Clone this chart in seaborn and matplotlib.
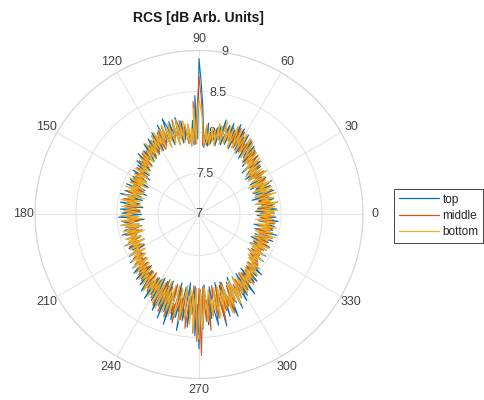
import numpy as np
import pandas as pd
import matplotlib
matplotlib.use("Agg")
import matplotlib.pyplot as plt
import seaborn as sns
from matplotlib.lines import Line2D

# angle of each sample, degrees (1 degree step)
angles_deg = list(range(0, 360))

top = [
    7.74, 7.92, 7.81, 7.69, 7.95, 7.86, 7.72, 7.90, 7.78, 7.97,
    7.70, 7.84, 7.93, 7.75, 7.88, 7.67, 7.91, 7.80, 7.96, 7.73,
    7.85, 7.71, 7.94, 7.82, 7.76, 7.98, 7.70, 7.87, 7.79, 7.93,
    7.72, 7.89, 7.83, 7.97, 7.74, 7.86, 7.92, 7.71, 7.95, 7.80,
    7.76, 7.99, 7.84, 7.91, 7.73, 8.02, 7.86, 7.95, 7.79, 8.04,
    7.83, 8.07, 7.88, 7.96, 8.10, 7.84, 8.05, 7.92, 8.14, 7.87,
    8.09, 7.90, 8.18, 7.95, 8.04, 8.21, 7.88, 8.12, 7.97, 8.19,
    7.91, 8.15, 8.02, 7.89, 8.20, 7.94, 8.11, 7.86, 8.08, 7.93,
    8.03, 7.87, 7.98, 7.84, 8.12, 7.90, 7.82, 8.05, 8.32, 8.60,
    8.90, 7.92, 8.45, 7.86, 8.15, 7.99, 7.84, 8.10, 7.90, 8.08,
    7.93, 8.16, 7.89, 8.10, 8.22, 7.92, 8.14, 7.98, 8.19, 7.90,
    8.13, 8.25, 7.94, 8.08, 7.96, 8.20, 7.91, 8.12, 8.03, 7.89,
    8.15, 7.93, 8.06, 7.88, 8.11, 7.97, 8.04, 7.86, 8.09, 7.92,
    7.85, 8.03, 7.90, 7.98, 7.82, 8.05, 7.87, 7.95, 7.80, 8.00,
    7.84, 7.96, 7.77, 7.92, 7.86, 7.73, 7.97, 7.81, 7.90, 7.75,
    7.93, 7.79, 7.70, 7.94, 7.83, 7.88, 7.72, 7.96, 7.78, 7.91,
    7.68, 7.87, 7.95, 7.74, 7.82, 7.99, 7.71, 7.89, 7.80, 7.93,
    7.73, 7.97, 7.84, 7.69, 7.91, 7.78, 7.96, 7.72, 7.86, 7.94,
    7.70, 7.88, 7.98, 7.76, 7.83, 7.67, 7.92, 7.81, 7.95, 7.74,
    7.89, 7.71, 7.93, 7.85, 7.77, 7.97, 7.72, 7.87, 7.80, 7.94,
    7.75, 7.90, 7.83, 7.98, 7.73, 7.86, 7.95, 7.79, 7.92, 7.76,
    7.88, 7.99, 7.78, 7.93, 7.84, 8.02, 7.81, 7.95, 7.87, 8.04,
    7.83, 7.97, 8.07, 7.86, 8.01, 7.90, 8.10, 7.85, 8.05, 7.94,
    8.12, 7.89, 8.03, 8.17, 7.93, 8.09, 7.98, 8.22, 7.91, 8.14,
    7.92, 8.20, 7.88, 8.15, 8.30, 7.90, 8.22, 7.95, 8.36, 7.87,
    8.26, 8.02, 8.41, 7.91, 8.18, 8.33, 7.86, 8.29, 8.05, 8.44,
    7.90, 8.31, 8.12, 7.84, 8.38, 8.00, 8.22, 7.88, 8.48, 8.10,
    8.64, 7.92, 8.40, 8.15, 7.86, 8.35, 8.02, 8.28, 7.89, 8.19,
    8.37, 7.95, 8.24, 7.85, 8.40, 8.08, 7.90, 8.30, 7.87, 8.21,
    8.05, 8.33, 7.89, 8.17, 7.84, 8.26, 8.00, 8.12, 7.86, 8.20,
    7.98, 8.15, 7.85, 8.09, 7.93, 8.18, 7.88, 8.04, 7.83, 8.07,
    7.98, 8.08, 7.87, 8.03, 7.93, 7.84, 8.06, 7.89, 7.99, 7.82,
    7.94, 7.78, 7.90, 7.85, 7.97, 7.73, 7.88, 7.81, 7.96, 7.76,
    7.87, 7.71, 7.93, 7.80, 7.74, 7.95, 7.83, 7.69, 7.91, 7.78,
    7.96, 7.72, 7.86, 7.90, 7.75, 7.98, 7.70, 7.84, 7.92, 7.79,
    7.68, 7.93, 7.82, 7.88, 7.73, 7.97, 7.77, 7.85, 7.94, 7.71,
]

middle = [
    7.86, 7.75, 7.91, 7.79, 7.84, 7.72, 7.89, 7.81, 7.93, 7.76,
    7.88, 7.80, 7.74, 7.92, 7.83, 7.77, 7.90, 7.71, 7.86, 7.94,
    7.78, 7.89, 7.82, 7.75, 7.93, 7.80, 7.87, 7.73, 7.91, 7.84,
    7.92, 7.77, 7.86, 7.81, 7.95, 7.74, 7.88, 7.83, 7.79, 7.96,
    7.85, 7.80, 7.97, 7.83, 7.93, 8.00, 7.86, 7.91, 8.03, 7.84,
    8.05, 7.89, 7.98, 8.08, 7.87, 8.11, 7.92, 8.02, 7.90, 8.13,
    7.93, 8.15, 8.01, 7.91, 8.17, 7.96, 8.09, 7.89, 8.14, 8.00,
    8.12, 7.92, 8.06, 8.16, 7.90, 8.08, 7.97, 8.13, 7.88, 8.04,
    7.91, 8.07, 7.86, 7.99, 7.85, 8.08, 7.93, 7.84, 8.20, 8.45,
    8.68, 8.30, 7.90, 8.38, 7.85, 8.06, 7.91, 8.02, 7.87, 8.11,
    8.04, 7.90, 8.17, 7.95, 8.09, 7.88, 8.20, 8.01, 7.92, 8.15,
    7.96, 8.11, 7.90, 8.18, 8.03, 7.93, 8.14, 7.89, 8.07, 7.97,
    8.02, 8.12, 7.90, 8.08, 7.95, 8.03, 7.88, 8.06, 7.93, 7.99,
    8.01, 7.87, 7.95, 8.02, 7.84, 7.97, 7.90, 7.83, 7.98, 7.86,
    7.92, 7.81, 7.89, 7.95, 7.78, 7.87, 7.84, 7.93, 7.76, 7.90,
    7.80, 7.91, 7.85, 7.74, 7.92, 7.79, 7.87, 7.83, 7.72, 7.89,
    7.84, 7.76, 7.93, 7.81, 7.73, 7.90, 7.86, 7.78, 7.94, 7.80,
    7.88, 7.74, 7.82, 7.91, 7.77, 7.85, 7.72, 7.92, 7.79, 7.87,
    7.83, 7.93, 7.76, 7.86, 7.80, 7.95, 7.73, 7.88, 7.84, 7.78,
    7.91, 7.80, 7.75, 7.89, 7.84, 7.72, 7.93, 7.79, 7.86, 7.82,
    7.88, 7.77, 7.92, 7.83, 7.79, 7.94, 7.81, 7.87, 7.76, 7.91,
    7.84, 7.93, 7.80, 7.88, 7.97, 7.82, 7.92, 7.86, 7.99, 7.83,
    7.95, 7.88, 8.01, 7.85, 7.96, 8.04, 7.87, 7.99, 7.91, 8.07,
    7.89, 8.03, 7.94, 8.10, 7.88, 8.06, 8.13, 7.92, 8.08, 7.96,
    8.17, 7.90, 8.11, 8.24, 7.93, 8.15, 7.87, 8.28, 8.01, 8.19,
    7.94, 8.32, 8.08, 7.89, 8.25, 8.13, 8.36, 7.92, 8.21, 8.04,
    8.30, 7.88, 8.17, 8.40, 7.95, 8.26, 7.87, 8.45, 8.08, 8.55,
    7.90, 8.72, 8.20, 7.88, 8.31, 8.05, 8.42, 7.93, 8.24, 8.09,
    7.88, 8.29, 8.12, 7.91, 8.34, 8.00, 8.22, 7.86, 8.18, 8.06,
    8.28, 7.93, 8.15, 8.07, 7.87, 8.21, 7.95, 8.14, 8.02, 7.90,
    8.12, 7.91, 8.03, 8.10, 7.86, 8.06, 7.97, 7.89, 8.08, 7.94,
    7.88, 8.04, 7.92, 7.85, 8.00, 7.90, 7.83, 7.97, 7.87, 7.95,
    7.81, 7.92, 7.86, 7.78, 7.94, 7.83, 7.89, 7.76, 7.91, 7.85,
    7.79, 7.90, 7.74, 7.87, 7.82, 7.93, 7.77, 7.85, 7.91, 7.73,
    7.88, 7.81, 7.94, 7.76, 7.84, 7.90, 7.72, 7.86, 7.80, 7.92,
    7.75, 7.87, 7.83, 7.93, 7.78, 7.85, 7.91, 7.74, 7.89, 7.82,
]

bottom = [
    7.72, 7.91, 7.80, 7.96, 7.70, 7.88, 7.93, 7.74, 7.85, 7.97,
    7.69, 7.90, 7.78, 7.94, 7.73, 7.87, 7.98, 7.71, 7.83, 7.92,
    7.76, 7.95, 7.70, 7.89, 7.81, 7.97, 7.74, 7.91, 7.68, 7.86,
    7.93, 7.75, 7.88, 7.99, 7.72, 7.84, 7.95, 7.78, 7.90, 7.73,
    7.96, 7.80, 7.92, 8.01, 7.77, 7.94, 7.85, 8.03, 7.82, 7.98,
    8.06, 7.84, 7.99, 8.09, 7.86, 8.04, 8.12, 7.89, 8.01, 8.14,
    7.87, 8.10, 7.95, 8.16, 7.90, 8.08, 8.18, 7.88, 8.12, 7.96,
    8.15, 7.91, 8.06, 8.19, 7.89, 8.11, 7.94, 8.14, 7.86, 8.05,
    7.92, 8.08, 7.85, 8.02, 7.88, 8.10, 7.84, 7.97, 8.18, 8.28,
    8.40, 8.22, 7.86, 8.30, 7.89, 8.07, 7.85, 8.12, 7.91, 8.09,
    8.16, 7.90, 8.12, 7.94, 8.19, 7.89, 8.15, 8.02, 7.92, 8.17,
    7.95, 8.13, 7.88, 8.18, 8.00, 8.14, 7.90, 8.10, 7.97, 8.15,
    7.89, 8.11, 7.94, 8.07, 7.87, 8.05, 7.92, 8.09, 7.86, 8.02,
    7.93, 7.84, 8.03, 7.88, 7.98, 7.82, 8.00, 7.86, 7.95, 7.80,
    7.94, 7.78, 7.91, 7.85, 7.96, 7.76, 7.89, 7.82, 7.93, 7.74,
    7.90, 7.77, 7.95, 7.71, 7.87, 7.93, 7.75, 7.89, 7.80, 7.96,
    7.72, 7.91, 7.79, 7.86, 7.69, 7.94, 7.81, 7.88, 7.73, 7.97,
    7.78, 7.90, 7.70, 7.87, 7.95, 7.76, 7.84, 7.92, 7.71, 7.89,
    7.82, 7.96, 7.73, 7.88, 7.70, 7.93, 7.79, 7.85, 7.97, 7.74,
    7.90, 7.72, 7.86, 7.95, 7.77, 7.91, 7.69, 7.88, 7.81, 7.94,
    7.75, 7.92, 7.83, 7.97, 7.73, 7.89, 7.80, 7.95, 7.78, 7.91,
    7.84, 7.98, 7.77, 7.93, 7.86, 8.00, 7.80, 7.96, 7.88, 8.03,
    7.82, 7.99, 7.90, 8.05, 7.84, 8.01, 7.92, 8.08, 7.87, 8.04,
    7.95, 8.11, 7.89, 8.07, 8.15, 7.91, 8.10, 7.96, 8.18, 7.93,
    8.14, 7.90, 8.22, 8.04, 7.92, 8.26, 7.97, 8.19, 7.88, 8.28,
    7.99, 8.24, 7.91, 8.30, 8.06, 7.89, 8.27, 8.12, 7.94, 8.33,
    8.05, 7.88, 8.29, 8.10, 7.92, 8.35, 7.98, 8.41, 7.90, 8.45,
    8.52, 7.94, 8.38, 8.08, 7.90, 8.31, 8.01, 7.93, 8.26, 8.04,
    8.20, 7.91, 8.29, 8.05, 7.89, 8.24, 7.96, 8.18, 7.90, 8.27,
    8.03, 8.21, 7.92, 8.15, 7.88, 8.19, 8.00, 8.13, 7.87, 8.10,
    8.06, 7.90, 8.12, 7.95, 8.08, 7.86, 8.04, 7.93, 8.09, 7.88,
    8.02, 7.85, 7.98, 7.91, 8.04, 7.82, 7.96, 7.88, 7.99, 7.80,
    7.93, 7.77, 7.90, 7.84, 7.96, 7.74, 7.88, 7.81, 7.94, 7.76,
    7.87, 7.72, 7.92, 7.79, 7.95, 7.73, 7.86, 7.90, 7.70, 7.84,
    7.91, 7.75, 7.88, 7.97, 7.71, 7.85, 7.93, 7.78, 7.89, 7.74,
    7.96, 7.72, 7.87, 7.81, 7.94, 7.69, 7.90, 7.83, 7.77, 7.92,
]

series_names = ["top", "middle", "bottom"]
series_values = [top, middle, bottom]
colors = ["#0072BD", "#D95319", "#EDB120"]

theta_ticks = list(range(0, 360, 30))
r_ticks = [7, 7.5, 8, 8.5, 9]
r_tick_labels = ["7", "7.5", "8", "8.5", "9"]

# long table, each loop closed back to its first sample
rows = []
n = len(angles_deg)
for name, vals in zip(series_names, series_values):
    for i in range(n + 1):
        k = i % n
        th = np.deg2rad(angles_deg[k]) + (2 * np.pi if i == n else 0.0)
        rows.append({"theta": th, "r": vals[k], "series": name})
df = pd.DataFrame(rows)

sns.set_style("white")
plt.rcParams["font.family"] = ["Liberation Sans", "DejaVu Sans"]

fig = plt.figure(figsize=(4.84, 4.0), dpi=100)
ax = fig.add_axes([0.0723, 0.0538, 0.6777, 0.82], projection="polar")

sns.lineplot(data=df, x="theta", y="r", hue="series", hue_order=series_names,
             palette=colors, sort=False, estimator=None,
             linewidth=0.8, ax=ax, legend=False)

ax.set_axisbelow(True)
ax.set_rlim(7, 9)
ax.set_rticks(r_ticks)
ax.set_yticklabels(r_tick_labels)
ax.set_rlabel_position(81)
ax.set_thetagrids(theta_ticks, [str(t) for t in theta_ticks])
ax.set_xlabel("")
ax.set_ylabel("")
ax.grid(True, color="#e2e2e2", linewidth=0.7)
ax.spines["polar"].set_color("#d4d4d4")
ax.spines["polar"].set_linewidth(0.8)
ax.tick_params(axis="x", labelsize=9, colors="#404040", pad=-2)
ax.tick_params(axis="y", labelsize=9, colors="#404040")
for lbl in ax.get_yticklabels():
    lbl.set_horizontalalignment("center")
    lbl.set_verticalalignment("center")

fig.text(0.411, 0.955, "RCS [dB Arb. Units]", ha="center", va="center",
         fontsize=10, fontweight="bold", color="#1a1a1a")

handles = [Line2D([0], [0], color=c, lw=0.9) for c in colors]
leg = fig.legend(handles, series_names, loc="upper left",
                 bbox_to_anchor=(0.814, 0.528), fontsize=8.5, frameon=True,
                 fancybox=False, edgecolor="#262626", framealpha=1,
                 handlelength=3.4, handletextpad=0.3, borderpad=0.4,
                 labelspacing=0.35, borderaxespad=0)
leg.get_frame().set_linewidth(0.6)

fig.savefig("out.png", dpi=100)
